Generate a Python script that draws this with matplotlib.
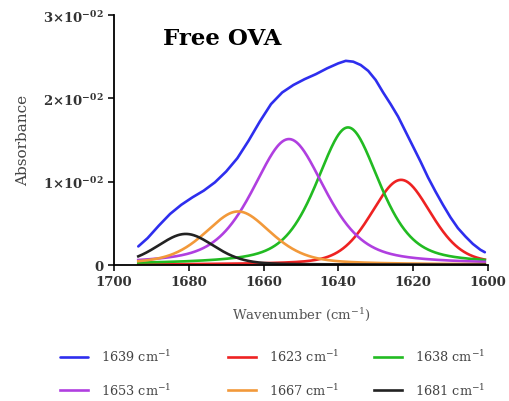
import numpy as np
import matplotlib
matplotlib.use("Agg")
import matplotlib.pyplot as plt
from matplotlib.ticker import FixedLocator, FuncFormatter

plt.rcParams['font.family'] = ['DejaVu Serif']
plt.rcParams['mathtext.fontset'] = 'dejavuserif'

# Measured amide I spectrum (wavenumber in cm-1, absorbance)
spec_wavenumber = [1693.5, 1691, 1688, 1685, 1682, 1679, 1676, 1673, 1670, 1667,
                   1664, 1661, 1658, 1655, 1652, 1649, 1646, 1643, 1640, 1638,
                   1636, 1634, 1632, 1630, 1628, 1626, 1624, 1622, 1620, 1618,
                   1616, 1614, 1612, 1610, 1608, 1606, 1604, 1602, 1600.8]
spec_absorbance = [0.0022, 0.0032, 0.0047, 0.0061, 0.0072, 0.0081, 0.0089, 0.0099,
                   0.0112, 0.0128, 0.0149, 0.0172, 0.0193, 0.0207, 0.0216, 0.0223,
                   0.0229, 0.0236, 0.0242, 0.0245, 0.0244, 0.0240, 0.0233, 0.0222,
                   0.0207, 0.0193, 0.0178, 0.0160, 0.0142, 0.0124, 0.0105, 0.0088,
                   0.0072, 0.0057, 0.0044, 0.0034, 0.0025, 0.0018, 0.0015]
spec_label = "1639"

# Fitted component bands (pseudo-Voigt)
band_labels = ["1623", "1638", "1653", "1667", "1681"]
band_centers = [1623.2, 1637.4, 1653.2, 1666.8, 1680.8]
band_heights = [0.0102, 0.0165, 0.0151, 0.0064, 0.0037]
band_fwhm = [19.0, 20.0, 23.0, 21.0, 18.0]
band_lorentz_frac = [0.3, 0.5, 0.5, 0.45, 0.25]
band_colors = ["#EE2222", "#22BB22", "#B03FE0", "#F2993A", "#222222"]
spec_color = "#2E2EEE"

fit_range = (1693.5, 1600.8)

fig = plt.figure(figsize=(5.10, 4.02), dpi=100)
ax = fig.add_axes([0.2235, 0.339, 0.733, 0.621])

wn = np.linspace(fit_range[0], fit_range[1], 600)
lines = {}
lines[spec_label], = ax.plot(spec_wavenumber, spec_absorbance, color=spec_color, lw=1.9,
                             solid_capstyle='round', solid_joinstyle='round')
for lab, c, h, w, eta, col in zip(band_labels, band_centers, band_heights, band_fwhm,
                                  band_lorentz_frac, band_colors):
    d = (wn - c) / (w / 2.0)
    lor = 1.0 / (1.0 + d ** 2)
    gau = np.exp(-np.log(2) * d ** 2)
    y = h * (eta * lor + (1 - eta) * gau)
    lines[lab], = ax.plot(wn, y, color=col, lw=1.9)

ax.set_xlim(1700, 1600)
ax.set_ylim(0, 0.03)
ax.xaxis.set_major_locator(FixedLocator([1700, 1680, 1660, 1640, 1620, 1600]))
ax.yaxis.set_major_locator(FixedLocator([0, 0.01, 0.02, 0.03]))


def yfmt(v, pos):
    if abs(v) < 1e-12:
        return "0"
    m = int(round(v * 100))
    return r"$\mathbf{%d{\times}10^{-02}}$" % m


ax.yaxis.set_major_formatter(FuncFormatter(yfmt))
for s in ("top", "right"):
    ax.spines[s].set_visible(False)
for s in ("left", "bottom"):
    ax.spines[s].set_linewidth(1.3)
ax.tick_params(axis='both', direction='out', length=4, width=1.3, colors='#222222',
               labelsize=9.5, labelcolor='#333333')
for t in ax.get_xticklabels() + ax.get_yticklabels():
    t.set_fontweight('bold')

ax.set_xlabel(r"Wavenumber (cm$^{-1}$)", fontsize=9.5, color='#555555', labelpad=12)
ax.set_ylabel("Absorbance", fontsize=11, color='#444444', labelpad=9)

ax.text(0.13, 0.91, "Free OVA", transform=ax.transAxes, fontsize=16.5,
        fontweight='bold', color='black', ha='left', va='center')

# Legend laid out as three columns of two entries
columns = [[spec_label, "1653"], ["1623", "1667"], ["1638", "1681"]]
col_x = [0.1176, 0.447, 0.733]
for keys, x0 in zip(columns, col_x):
    fig.legend([lines[k] for k in keys], [k + r" cm$^{-1}$" for k in keys],
               loc='center left', bbox_to_anchor=(x0, 0.0697), ncol=1, frameon=False,
               fontsize=9.3, handlelength=2.15, handletextpad=1.0, borderpad=0,
               borderaxespad=0, labelspacing=1.35, labelcolor='#444444')

fig.savefig("out.png", dpi=100)
